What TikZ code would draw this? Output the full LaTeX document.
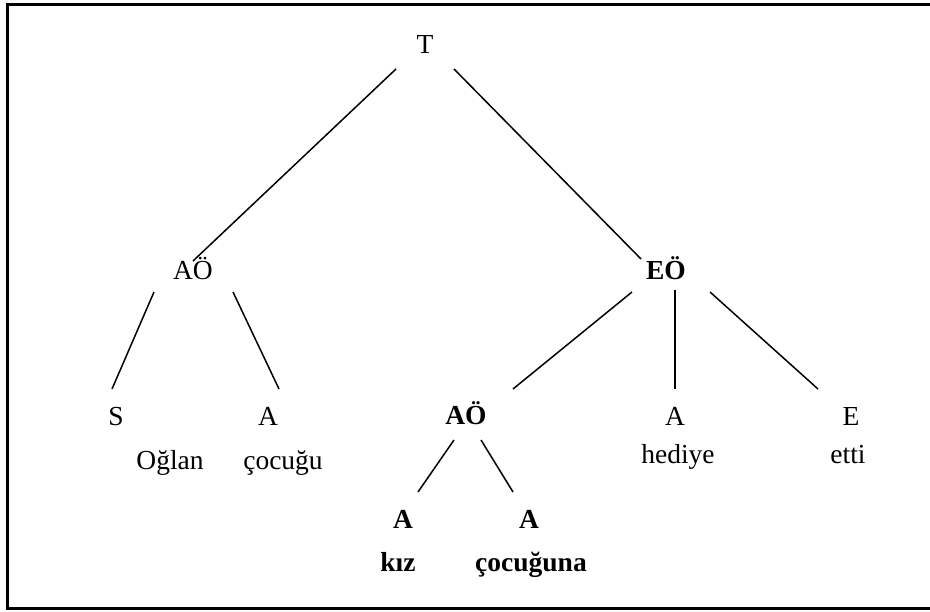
\documentclass[tikz,border=0pt]{standalone}
\usepackage{fontspec}
\setmainfont{Liberation Serif}
\usetikzlibrary{calc}
\begin{document}
\begin{tikzpicture}[x=1pt,y=-1pt,
  lbl/.style={anchor=base,inner sep=0pt,font=\fontsize{27.5}{32}\selectfont},
  blbl/.style={lbl,font=\fontsize{27.5}{32}\selectfont\bfseries},
  edge/.style={line width=1.5pt}]
\useasboundingbox (0,0) rectangle (930,612);
\clip (0,0) rectangle (930,612);
\fill[white] (0,0) rectangle (930,612);
\draw[line width=2.2pt] (945,4.5) -- (7.5,4.5) -- (7.5,608.5) -- (945,608.5);
% nodes
\node[lbl]  (T)    at (425,54)  {T};
\node[lbl]  (AOa)  at (193,280) {AÖ};
\node[blbl] (EO)   at (666,280) {EÖ};
\node[lbl]  (S)    at (116,426) {S};
\node[lbl]  (A1)   at (268,426) {A};
\node[blbl] (AOb)  at (466,425) {AÖ};
\node[lbl]  (A2)   at (675,426) {A};
\node[lbl]  (E)    at (851,426) {E};
\node[lbl]  (w1)   at (170,470) {Oğlan};
\node[lbl]  (w2)   at (283,470) {çocuğu};
\node[lbl]  (w3)   at (678,464) {hediye};
\node[lbl]  (w4)   at (848,464) {etti};
\node[blbl] (A3)   at (403,529) {A};
\node[blbl] (A4)   at (529,529) {A};
\node[blbl] (w5)   at (398,571) {kız};
\node[blbl] (w6)   at (531,571) {çocuğuna};
% connectors (offsets from the nodes' base points)
\draw[edge] ($(T.base)+(-29,15)$)   -- ($(AOa.base)+(0,-19)$);
\draw[edge] ($(T.base)+(29,15)$)    -- ($(EO.base)+(-25,-21)$);
\draw[edge] ($(AOa.base)+(-39,12)$) -- ($(S.base)+(-4,-37)$);
\draw[edge] ($(AOa.base)+(40,12)$)  -- ($(A1.base)+(11,-37)$);
\draw[edge] ($(EO.base)+(-34,12)$)  -- ($(AOb.base)+(47,-36)$);
\draw[edge] ($(EO.base)+(9,10)$)    -- ($(A2.base)+(0,-37)$);
\draw[edge] ($(EO.base)+(44,12)$)   -- ($(E.base)+(-33,-37)$);
\draw[edge] ($(AOb.base)+(-12,15)$) -- ($(A3.base)+(15,-37)$);
\draw[edge] ($(AOb.base)+(15,15)$)  -- ($(A4.base)+(-16,-37)$);
\end{tikzpicture}
\end{document}
